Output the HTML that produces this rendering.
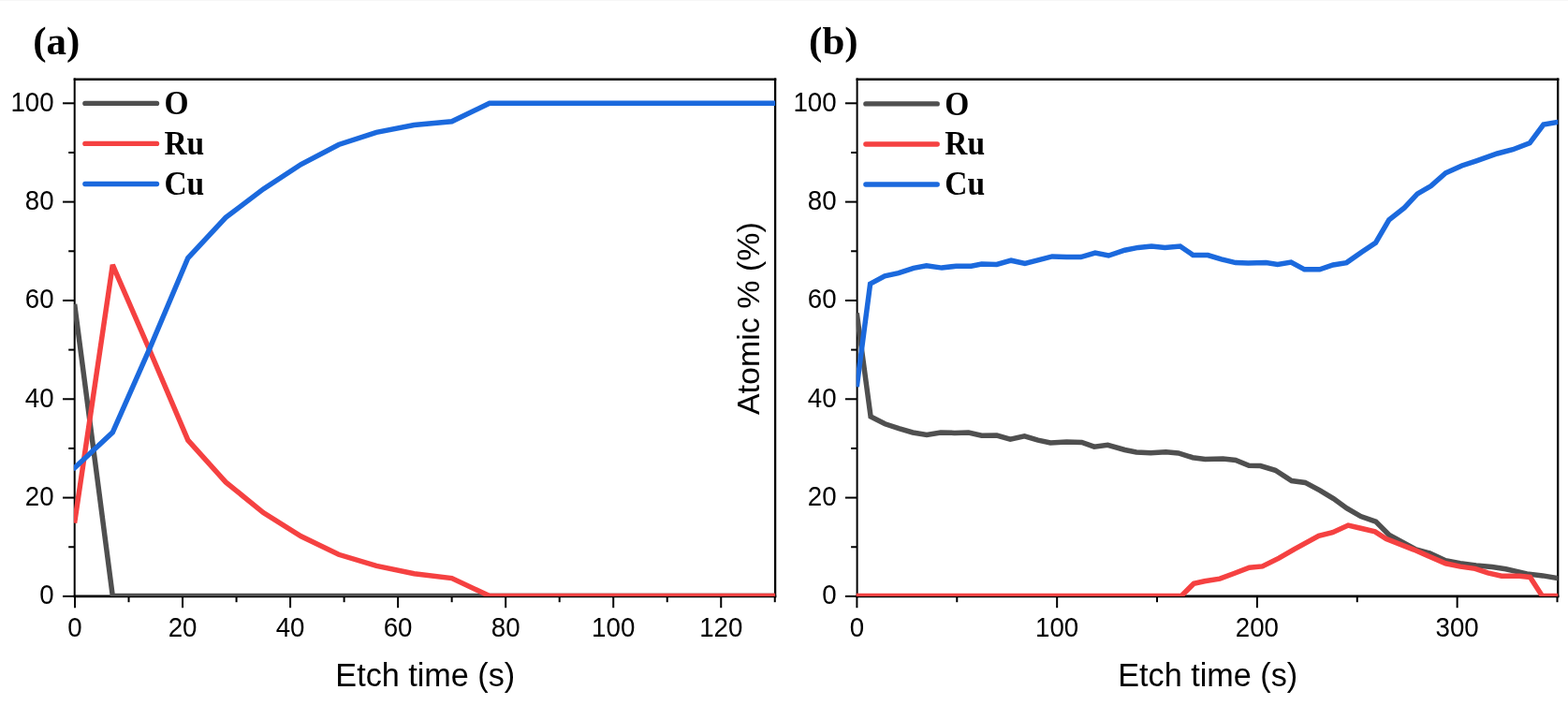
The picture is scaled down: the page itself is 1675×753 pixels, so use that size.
<!DOCTYPE html>
<html><head><meta charset="utf-8"><title>Atomic % vs Etch time</title>
<style>html,body{margin:0;padding:0;background:#fff;} svg{display:block;}</style></head>
<body><svg width="1675" height="753" viewBox="0 0 1675 753">
<rect x="0" y="0" width="1675" height="753" fill="#fff"/>
<rect x="0" y="0" width="1675" height="1" fill="#f7f7f7"/>
<text x="35.20" y="58.40" font-family="'Liberation Serif', 'Times New Roman', serif" font-size="43px" font-weight="bold" text-anchor="start" >(a)</text>
<text x="864.10" y="58.40" font-family="'Liberation Serif', 'Times New Roman', serif" font-size="43px" font-weight="bold" text-anchor="start" >(b)</text>
<defs><clipPath id="ca"><rect x="78.9" y="84.7" width="749.20" height="552.30"/></clipPath><clipPath id="cb"><rect x="914.7" y="84.7" width="749.60" height="552.30"/></clipPath></defs>
<line x1="67.00" y1="636.90" x2="79.70" y2="636.90" stroke="#000" stroke-width="2.0"/>
<text transform="translate(57.60,645.30) scale(0.955,1)" font-family="'Liberation Sans', Arial, sans-serif" font-size="29px" font-weight="normal" text-anchor="end" >0</text>
<line x1="67.00" y1="531.58" x2="79.70" y2="531.58" stroke="#000" stroke-width="2.0"/>
<text transform="translate(57.60,539.98) scale(0.955,1)" font-family="'Liberation Sans', Arial, sans-serif" font-size="29px" font-weight="normal" text-anchor="end" >20</text>
<line x1="67.00" y1="426.26" x2="79.70" y2="426.26" stroke="#000" stroke-width="2.0"/>
<text transform="translate(57.60,434.66) scale(0.955,1)" font-family="'Liberation Sans', Arial, sans-serif" font-size="29px" font-weight="normal" text-anchor="end" >40</text>
<line x1="67.00" y1="320.94" x2="79.70" y2="320.94" stroke="#000" stroke-width="2.0"/>
<text transform="translate(57.60,329.34) scale(0.955,1)" font-family="'Liberation Sans', Arial, sans-serif" font-size="29px" font-weight="normal" text-anchor="end" >60</text>
<line x1="67.00" y1="215.62" x2="79.70" y2="215.62" stroke="#000" stroke-width="2.0"/>
<text transform="translate(57.60,224.02) scale(0.955,1)" font-family="'Liberation Sans', Arial, sans-serif" font-size="29px" font-weight="normal" text-anchor="end" >80</text>
<line x1="67.00" y1="110.30" x2="79.70" y2="110.30" stroke="#000" stroke-width="2.0"/>
<text transform="translate(57.60,118.70) scale(0.955,1)" font-family="'Liberation Sans', Arial, sans-serif" font-size="29px" font-weight="normal" text-anchor="end" >100</text>
<line x1="73.20" y1="584.24" x2="79.70" y2="584.24" stroke="#000" stroke-width="2.0"/>
<line x1="73.20" y1="478.92" x2="79.70" y2="478.92" stroke="#000" stroke-width="2.0"/>
<line x1="73.20" y1="373.60" x2="79.70" y2="373.60" stroke="#000" stroke-width="2.0"/>
<line x1="73.20" y1="268.28" x2="79.70" y2="268.28" stroke="#000" stroke-width="2.0"/>
<line x1="73.20" y1="162.96" x2="79.70" y2="162.96" stroke="#000" stroke-width="2.0"/>
<line x1="80.00" y1="636.90" x2="80.00" y2="649.20" stroke="#000" stroke-width="2.0"/>
<text transform="translate(80.00,680.30) scale(0.955,1)" font-family="'Liberation Sans', Arial, sans-serif" font-size="29px" font-weight="normal" text-anchor="middle" >0</text>
<line x1="195.04" y1="636.90" x2="195.04" y2="649.20" stroke="#000" stroke-width="2.0"/>
<text transform="translate(195.04,680.30) scale(0.955,1)" font-family="'Liberation Sans', Arial, sans-serif" font-size="29px" font-weight="normal" text-anchor="middle" >20</text>
<line x1="310.08" y1="636.90" x2="310.08" y2="649.20" stroke="#000" stroke-width="2.0"/>
<text transform="translate(310.08,680.30) scale(0.955,1)" font-family="'Liberation Sans', Arial, sans-serif" font-size="29px" font-weight="normal" text-anchor="middle" >40</text>
<line x1="425.12" y1="636.90" x2="425.12" y2="649.20" stroke="#000" stroke-width="2.0"/>
<text transform="translate(425.12,680.30) scale(0.955,1)" font-family="'Liberation Sans', Arial, sans-serif" font-size="29px" font-weight="normal" text-anchor="middle" >60</text>
<line x1="540.16" y1="636.90" x2="540.16" y2="649.20" stroke="#000" stroke-width="2.0"/>
<text transform="translate(540.16,680.30) scale(0.955,1)" font-family="'Liberation Sans', Arial, sans-serif" font-size="29px" font-weight="normal" text-anchor="middle" >80</text>
<line x1="655.20" y1="636.90" x2="655.20" y2="649.20" stroke="#000" stroke-width="2.0"/>
<text transform="translate(655.20,680.30) scale(0.955,1)" font-family="'Liberation Sans', Arial, sans-serif" font-size="29px" font-weight="normal" text-anchor="middle" >100</text>
<line x1="770.24" y1="636.90" x2="770.24" y2="649.20" stroke="#000" stroke-width="2.0"/>
<text transform="translate(770.24,680.30) scale(0.955,1)" font-family="'Liberation Sans', Arial, sans-serif" font-size="29px" font-weight="normal" text-anchor="middle" >120</text>
<line x1="137.52" y1="636.90" x2="137.52" y2="643.20" stroke="#000" stroke-width="2.0"/>
<line x1="252.56" y1="636.90" x2="252.56" y2="643.20" stroke="#000" stroke-width="2.0"/>
<line x1="367.60" y1="636.90" x2="367.60" y2="643.20" stroke="#000" stroke-width="2.0"/>
<line x1="482.64" y1="636.90" x2="482.64" y2="643.20" stroke="#000" stroke-width="2.0"/>
<line x1="597.68" y1="636.90" x2="597.68" y2="643.20" stroke="#000" stroke-width="2.0"/>
<line x1="712.72" y1="636.90" x2="712.72" y2="643.20" stroke="#000" stroke-width="2.0"/>
<line x1="827.76" y1="636.90" x2="827.76" y2="643.20" stroke="#000" stroke-width="2.0"/>
<path d="M78.70,84.70H829.25M78.70,636.90H829.25" stroke="#000" stroke-width="2.6" fill="none"/>
<path d="M79.70,83.40V638.20" stroke="#000" stroke-width="2.0" fill="none"/>
<path d="M828.10,83.40V638.20" stroke="#000" stroke-width="2.3" fill="none"/>
<g clip-path="url(#ca)">
<polyline points="80.0,327.6 120.3,636.5 827.8,636.5" fill="none" stroke="#4f4f4f" stroke-width="5.5" stroke-linejoin="miter" stroke-miterlimit="2" stroke-linecap="square"/>
<polyline points="80.0,556.0 120.3,282.9 160.5,375.5 200.8,470.2 241.1,514.9 281.3,547.6 321.6,572.8 361.8,592.3 402.1,604.4 442.4,612.8 482.6,617.6 522.9,636.5 827.8,636.5" fill="none" stroke="#f54141" stroke-width="5.5" stroke-linejoin="miter" stroke-miterlimit="2" stroke-linecap="square"/>
<polyline points="80.0,499.4 120.3,461.8 160.5,370.8 200.8,275.5 241.1,232.4 281.3,201.9 321.6,175.5 361.8,154.5 402.1,141.3 442.4,133.5 482.6,129.8 522.9,110.3 827.8,110.3" fill="none" stroke="#1b69dd" stroke-width="5.5" stroke-linejoin="miter" stroke-miterlimit="2" stroke-linecap="square"/>
</g>
<line x1="90.9" y1="110.4" x2="167.5" y2="110.4" stroke="#4f4f4f" stroke-width="5.4" stroke-linecap="round"/>
<text transform="translate(175.40,121.90) scale(0.985,1.055)" font-family="'Liberation Serif', 'Times New Roman', serif" font-size="34px" font-weight="bold">O</text>
<line x1="90.9" y1="153.4" x2="167.5" y2="153.4" stroke="#f54141" stroke-width="5.4" stroke-linecap="round"/>
<text transform="translate(175.40,164.80) scale(0.985,1.055)" font-family="'Liberation Serif', 'Times New Roman', serif" font-size="34px" font-weight="bold">Ru</text>
<line x1="90.9" y1="196.5" x2="167.5" y2="196.5" stroke="#1b69dd" stroke-width="5.4" stroke-linecap="round"/>
<text transform="translate(175.40,207.60) scale(0.985,1.055)" font-family="'Liberation Serif', 'Times New Roman', serif" font-size="34px" font-weight="bold">Cu</text>
<text x="454.30" y="732.60" font-family="'Liberation Sans', Arial, sans-serif" font-size="34.2px" font-weight="normal" text-anchor="middle" >Etch time (s)</text>
<line x1="902.90" y1="636.90" x2="915.60" y2="636.90" stroke="#000" stroke-width="2.0"/>
<text transform="translate(893.60,645.30) scale(0.955,1)" font-family="'Liberation Sans', Arial, sans-serif" font-size="29px" font-weight="normal" text-anchor="end" >0</text>
<line x1="902.90" y1="531.58" x2="915.60" y2="531.58" stroke="#000" stroke-width="2.0"/>
<text transform="translate(893.60,539.98) scale(0.955,1)" font-family="'Liberation Sans', Arial, sans-serif" font-size="29px" font-weight="normal" text-anchor="end" >20</text>
<line x1="902.90" y1="426.26" x2="915.60" y2="426.26" stroke="#000" stroke-width="2.0"/>
<text transform="translate(893.60,434.66) scale(0.955,1)" font-family="'Liberation Sans', Arial, sans-serif" font-size="29px" font-weight="normal" text-anchor="end" >40</text>
<line x1="902.90" y1="320.94" x2="915.60" y2="320.94" stroke="#000" stroke-width="2.0"/>
<text transform="translate(893.60,329.34) scale(0.955,1)" font-family="'Liberation Sans', Arial, sans-serif" font-size="29px" font-weight="normal" text-anchor="end" >60</text>
<line x1="902.90" y1="215.62" x2="915.60" y2="215.62" stroke="#000" stroke-width="2.0"/>
<text transform="translate(893.60,224.02) scale(0.955,1)" font-family="'Liberation Sans', Arial, sans-serif" font-size="29px" font-weight="normal" text-anchor="end" >80</text>
<line x1="902.90" y1="110.30" x2="915.60" y2="110.30" stroke="#000" stroke-width="2.0"/>
<text transform="translate(893.60,118.70) scale(0.955,1)" font-family="'Liberation Sans', Arial, sans-serif" font-size="29px" font-weight="normal" text-anchor="end" >100</text>
<line x1="909.10" y1="584.24" x2="915.60" y2="584.24" stroke="#000" stroke-width="2.0"/>
<line x1="909.10" y1="478.92" x2="915.60" y2="478.92" stroke="#000" stroke-width="2.0"/>
<line x1="909.10" y1="373.60" x2="915.60" y2="373.60" stroke="#000" stroke-width="2.0"/>
<line x1="909.10" y1="268.28" x2="915.60" y2="268.28" stroke="#000" stroke-width="2.0"/>
<line x1="909.10" y1="162.96" x2="915.60" y2="162.96" stroke="#000" stroke-width="2.0"/>
<line x1="915.40" y1="636.90" x2="915.40" y2="649.20" stroke="#000" stroke-width="2.0"/>
<text transform="translate(915.40,680.30) scale(0.955,1)" font-family="'Liberation Sans', Arial, sans-serif" font-size="29px" font-weight="normal" text-anchor="middle" >0</text>
<line x1="1129.15" y1="636.90" x2="1129.15" y2="649.20" stroke="#000" stroke-width="2.0"/>
<text transform="translate(1129.15,680.30) scale(0.955,1)" font-family="'Liberation Sans', Arial, sans-serif" font-size="29px" font-weight="normal" text-anchor="middle" >100</text>
<line x1="1342.90" y1="636.90" x2="1342.90" y2="649.20" stroke="#000" stroke-width="2.0"/>
<text transform="translate(1342.90,680.30) scale(0.955,1)" font-family="'Liberation Sans', Arial, sans-serif" font-size="29px" font-weight="normal" text-anchor="middle" >200</text>
<line x1="1556.65" y1="636.90" x2="1556.65" y2="649.20" stroke="#000" stroke-width="2.0"/>
<text transform="translate(1556.65,680.30) scale(0.955,1)" font-family="'Liberation Sans', Arial, sans-serif" font-size="29px" font-weight="normal" text-anchor="middle" >300</text>
<line x1="1022.27" y1="636.90" x2="1022.27" y2="643.20" stroke="#000" stroke-width="2.0"/>
<line x1="1236.03" y1="636.90" x2="1236.03" y2="643.20" stroke="#000" stroke-width="2.0"/>
<line x1="1449.78" y1="636.90" x2="1449.78" y2="643.20" stroke="#000" stroke-width="2.0"/>
<line x1="1663.53" y1="636.90" x2="1663.53" y2="643.20" stroke="#000" stroke-width="2.0"/>
<path d="M914.60,84.70H1665.35M914.60,636.90H1665.35" stroke="#000" stroke-width="2.6" fill="none"/>
<path d="M915.60,83.40V638.20" stroke="#000" stroke-width="2.0" fill="none"/>
<path d="M1664.20,83.40V638.20" stroke="#000" stroke-width="2.3" fill="none"/>
<g clip-path="url(#cb)">
<polyline points="915.6,337.2 930.1,445.0 945.4,452.8 960.2,457.7 975.1,462.0 990.0,464.5 1004.9,462.0 1019.7,462.4 1034.6,462.0 1048.6,465.3 1064.8,465.0 1079.2,469.1 1094.4,465.8 1108.8,470.1 1122.1,473.0 1139.3,472.0 1155.6,472.5 1168.9,477.2 1183.3,475.3 1201.5,480.5 1213.9,482.9 1229.2,483.7 1245.4,482.7 1258.8,483.9 1274.0,488.7 1287.4,490.4 1306.5,490.1 1319.9,491.5 1334.2,497.2 1346.4,497.5 1362.3,502.3 1379.8,513.5 1394.2,515.4 1410.1,523.8 1424.5,532.6 1438.8,542.9 1453.7,551.6 1469.7,557.1 1484.0,571.5 1512.6,587.0 1527.2,590.9 1544.2,598.8 1560.0,601.6 1576.9,603.9 1593.8,605.6 1608.5,607.8 1631.1,612.9 1648.0,614.9 1664.2,617.6" fill="none" stroke="#4f4f4f" stroke-width="5.5" stroke-linejoin="miter" stroke-miterlimit="2" stroke-linecap="square"/>
<polyline points="915.6,636.4 1262.1,636.4 1275.3,623.2 1286.7,620.7 1303.1,618.1 1318.2,612.5 1334.6,606.2 1348.5,604.9 1366.2,596.1 1382.6,586.6 1408.7,572.3 1423.5,568.7 1440.2,561.1 1453.7,564.3 1468.9,567.9 1480.8,575.5 1510.3,587.1 1527.2,594.4 1544.2,601.8 1560.0,605.1 1575.8,607.4 1589.3,611.9 1604.0,615.3 1623.2,615.3 1634.5,616.4 1647.4,636.4 1664.2,636.4" fill="none" stroke="#f54141" stroke-width="5.5" stroke-linejoin="miter" stroke-miterlimit="2" stroke-linecap="square"/>
<polyline points="915.6,410.4 929.6,303.2 945.1,294.9 959.9,291.7 975.9,286.4 989.7,283.7 1006.1,286.1 1021.5,284.2 1037.5,284.2 1048.6,282.0 1064.8,282.5 1080.1,278.2 1094.9,281.5 1109.7,277.7 1124.0,273.9 1139.3,274.4 1154.6,274.6 1169.9,270.1 1184.2,273.0 1201.5,267.2 1215.8,264.4 1230.1,263.0 1244.4,264.4 1260.7,263.0 1274.5,272.5 1290.3,272.5 1304.6,276.8 1319.9,280.6 1333.3,281.1 1352.4,280.6 1364.8,282.5 1379.2,280.1 1393.5,287.8 1409.7,287.8 1424.0,283.0 1438.4,280.6 1454.6,269.2 1469.5,259.3 1483.8,234.9 1500.2,221.9 1514.0,207.2 1528.7,198.6 1544.3,184.8 1561.5,177.0 1577.1,171.8 1599.5,164.0 1616.0,159.7 1634.1,152.8 1648.8,133.0 1664.2,130.4" fill="none" stroke="#1b69dd" stroke-width="5.5" stroke-linejoin="miter" stroke-miterlimit="2" stroke-linecap="square"/>
</g>
<line x1="924.9" y1="110.9" x2="1001.2" y2="110.9" stroke="#4f4f4f" stroke-width="5.4" stroke-linecap="round"/>
<text transform="translate(1009.20,122.70) scale(0.985,1.055)" font-family="'Liberation Serif', 'Times New Roman', serif" font-size="34px" font-weight="bold">O</text>
<line x1="924.9" y1="154.0" x2="1001.2" y2="154.0" stroke="#f54141" stroke-width="5.4" stroke-linecap="round"/>
<text transform="translate(1009.20,165.40) scale(0.985,1.055)" font-family="'Liberation Serif', 'Times New Roman', serif" font-size="34px" font-weight="bold">Ru</text>
<line x1="924.9" y1="197.0" x2="1001.2" y2="197.0" stroke="#1b69dd" stroke-width="5.4" stroke-linecap="round"/>
<text transform="translate(1009.20,208.30) scale(0.985,1.055)" font-family="'Liberation Serif', 'Times New Roman', serif" font-size="34px" font-weight="bold">Cu</text>
<text x="1290.20" y="732.60" font-family="'Liberation Sans', Arial, sans-serif" font-size="34.2px" font-weight="normal" text-anchor="middle" >Etch time (s)</text>
<text x="0.00" y="0.00" font-family="'Liberation Sans', Arial, sans-serif" font-size="34px" font-weight="normal" text-anchor="middle" transform="translate(811.0,340.1) rotate(-90)">Atomic % (%)</text>
</svg></body></html>
